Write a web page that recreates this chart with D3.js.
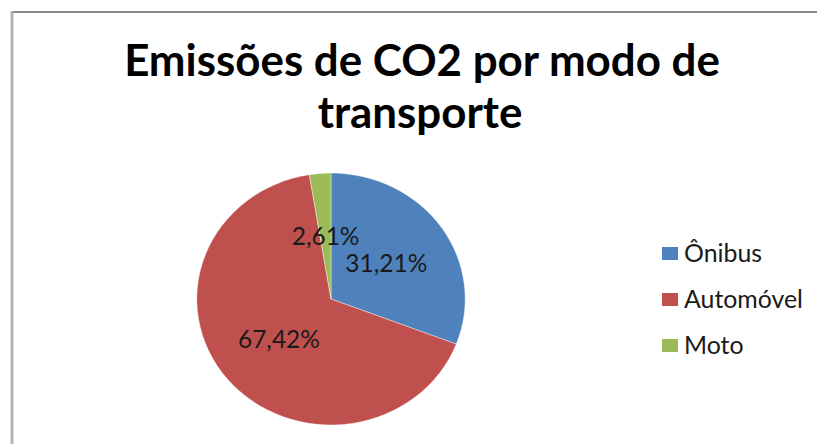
<!DOCTYPE html>
<html><head><meta charset="utf-8">
<script src="https://cdn.jsdelivr.net/npm/d3@7/dist/d3.min.js"></script>
<style>html,body{margin:0;padding:0;background:#fff;}svg{display:block;}</style>
</head><body>
<svg id="c" width="817" height="444"></svg>
<script>
const categories = ["Ônibus", "Automóvel", "Moto"];
const values = [31.21, 67.42, 2.61];
const colors = ["#4F81BD", "#C0504D", "#9BBB59"];
const titleLines = ["Emissões de CO2 por modo de", "transporte"];

const svg = d3.select("#c");
const W = 817, H = 444;

// frame
svg.append("line").attr("x1", 11).attr("x2", W).attr("y1", 12).attr("y2", 12)
  .attr("stroke", "#8a8a8a").attr("stroke-width", 2);
svg.append("line").attr("x1", 12).attr("x2", 12).attr("y1", 11).attr("y2", H)
  .attr("stroke", "#b4b4b4").attr("stroke-width", 3);

function fit(sel, target) {
  const fs = parseFloat(sel.attr("font-size"));
  const len = sel.node().getComputedTextLength();
  sel.attr("font-size", fs * target / len);
}

// title
const t1 = svg.append("text").attr("x", 422).attr("y", 76).attr("text-anchor", "middle")
  .attr("font-family", "Lato").attr("font-weight", "bold").attr("font-size", 40)
  .attr("fill", "#000").text(titleLines[0]);
fit(t1, 596);
const t2 = svg.append("text").attr("x", 420).attr("y", 128).attr("text-anchor", "middle")
  .attr("font-family", "Lato").attr("font-weight", "bold").attr("font-size", t1.attr("font-size"))
  .attr("fill", "#000").text(titleLines[1]);

// pie
const cx = 331, cy = 299, R = 126, sx = 1.065;
const pie = d3.pie().sort(null).value(d => d)(values);
const arc = d3.arc().innerRadius(0).outerRadius(R);
const g = svg.append("g").attr("transform", `translate(${cx},${cy}) scale(${sx},1)`);
g.selectAll("path").data(pie).enter().append("path")
  .attr("d", arc).attr("fill", (d, i) => colors[i])
  .attr("stroke", "#fff").attr("stroke-width", 0.4);

const fmt = v => d3.format(".2f")(v).replace(".", ",") + "%";
const lbl = svg.append("g");
const labels = lbl.selectAll("text").data(pie).enter().append("text")
  .attr("x", d => cx + arc.centroid(d)[0] * sx)
  .attr("y", d => cy + arc.centroid(d)[1])
  .attr("dy", "0.36em")
  .attr("text-anchor", "middle")
  .attr("font-family", "Lato").attr("font-size", 22).attr("fill", "#1a1a1a")
  .text(d => fmt(d.data));
// size labels to match reference width of "31,21%"
const ref = labels.filter((d, i) => i === 0);
fit(ref, 82);
labels.attr("font-size", ref.attr("font-size"));

// legend
const ly = d3.scalePoint().domain(categories).range([253.5, 345.5]);
const leg = svg.append("g");
const items = leg.selectAll("g").data(categories).enter().append("g")
  .attr("transform", d => `translate(662,${ly(d)})`);
items.append("rect").attr("x", 0).attr("y", -6.5).attr("width", 16).attr("height", 13)
  .attr("fill", (d, i) => colors[i]);
const lt = items.append("text").attr("x", 22).attr("y", 0).attr("dy", "0.36em")
  .attr("font-family", "Lato").attr("font-size", 20).attr("fill", "#1a1a1a").text(d => d);
const lref = lt.filter((d, i) => i === 1);
fit(lref, 119);
lt.attr("font-size", lref.attr("font-size"));
</script>
</body></html>
